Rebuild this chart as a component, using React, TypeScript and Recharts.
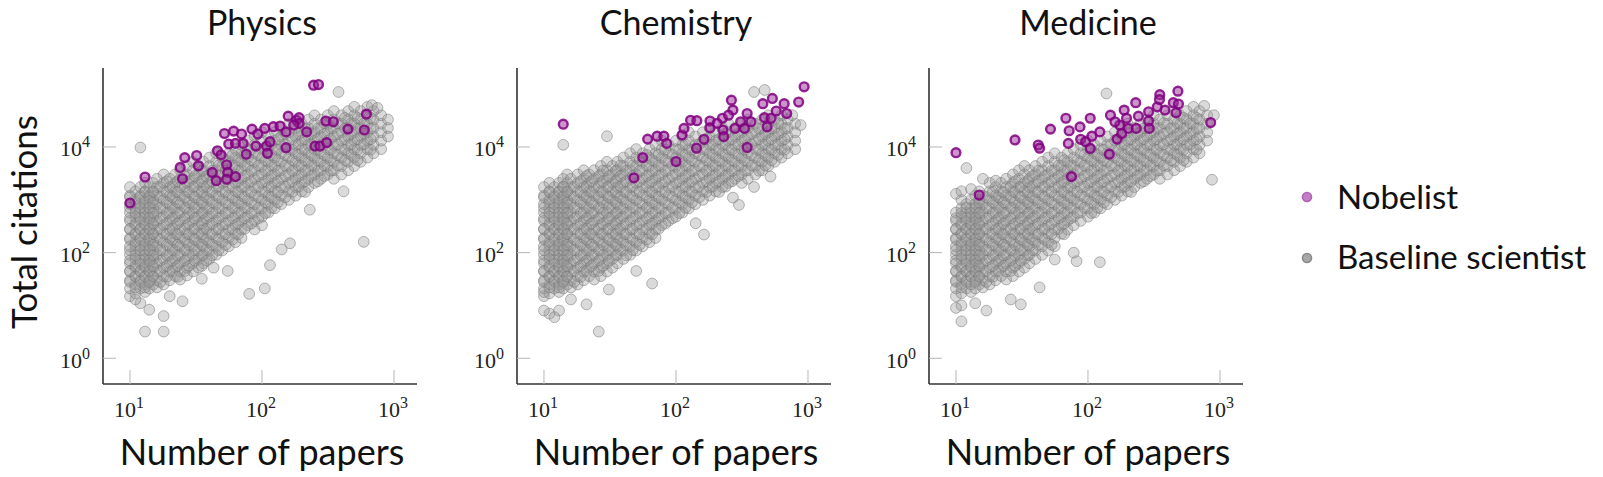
import React from 'react';
import { ScatterChart, Scatter, XAxis, YAxis } from 'recharts';

type Col = [number, number[]];
type Pt = [number, number];

// ---------- Physics ----------
const physicsBaseline: Col[] = [
  [10, [15, 21, 30, 44, 63, 91, 132, 190, 275, 400, 575, 830, 1200, 1740]],
  [11, [17, 25, 36, 52, 76, 110, 158, 229, 331, 479, 692, 1000, 1445]],
  [12, [21, 30, 44, 63, 91, 132, 190, 275, 400, 575, 830, 1200, 1740]],
  [13, [18, 25, 36, 52, 76, 110, 158, 229, 331, 479, 692, 1000, 1445, 2090]],
  [14, [21, 30, 44, 63, 91, 132, 190, 275, 400, 575, 830, 1200, 1740]],
  [15, [25, 36, 52, 76, 110, 158, 229, 331, 479, 692, 1000, 1445, 2090]],
  [16, [22, 30, 44, 63, 91, 132, 190, 275, 400, 575, 830, 1200, 1740, 2500]],
  [18, [25, 36, 52, 76, 110, 158, 229, 331, 479, 692, 1000, 1445, 2090, 3020]],
  [20, [30, 44, 63, 91, 132, 190, 275, 400, 575, 830, 1200, 1740, 2500]],
  [22, [36, 52, 76, 110, 158, 229, 331, 479, 692, 1000, 1445, 2090, 3020]],
  [24, [31, 44, 63, 91, 132, 190, 275, 400, 575, 830, 1200, 1740, 2500, 3630]],
  [27, [37, 52, 76, 110, 158, 229, 331, 479, 692, 1000, 1445, 2090, 3020, 4365]],
  [30, [44, 63, 91, 132, 190, 275, 400, 575, 830, 1200, 1740, 2500, 3630, 5250]],
  [33, [52, 76, 110, 158, 229, 331, 479, 692, 1000, 1445, 2090, 3020, 4365]],
  [36, [63, 91, 132, 190, 275, 400, 575, 830, 1200, 1740, 2500, 3630, 5250]],
  [40, [76, 110, 158, 229, 331, 479, 692, 1000, 1445, 2090, 3020, 4365, 6310]],
  [45, [91, 132, 190, 275, 400, 575, 830, 1200, 1740, 2500, 3630, 5250, 7600]],
  [50, [110, 158, 229, 331, 479, 692, 1000, 1445, 2090, 3020, 4365, 6310]],
  [56, [132, 190, 275, 400, 575, 830, 1200, 1740, 2500, 3630, 5250, 7600]],
  [63, [158, 229, 331, 479, 692, 1000, 1445, 2090, 3020, 4365, 6310, 9120]],
  [70, [190, 275, 400, 575, 830, 1200, 1740, 2500, 3630, 5250, 7600, 11000]],
  [78, [331, 479, 692, 1000, 1445, 2090, 3020, 4365, 6310, 9120, 13200]],
  [88, [275, 400, 575, 830, 1200, 1740, 2500, 3630, 5250, 7600, 11000, 15850]],
  [100, [331, 479, 692, 1000, 1445, 2090, 3020, 4365, 6310, 9120, 13200, 19050]],
  [112, [575, 830, 1200, 1740, 2500, 3630, 5250, 7600, 11000, 15850]],
  [125, [692, 1000, 1445, 2090, 3020, 4365, 6310, 9120, 13200, 19050]],
  [140, [830, 1200, 1740, 2500, 3630, 5250, 7600, 11000, 15850, 22900]],
  [160, [1000, 1445, 2090, 3020, 4365, 6310, 9120, 13200, 19050, 27540]],
  [180, [1200, 1740, 2500, 3630, 5250, 7600, 11000, 15850, 22900]],
  [200, [1445, 2090, 3020, 4365, 6310, 9120, 13200, 19050, 27540]],
  [225, [1740, 2500, 3630, 5250, 7600, 11000, 15850, 22900, 33100]],
  [250, [2090, 3020, 4365, 6310, 9120, 13200, 19050, 27540, 39800]],
  [280, [2500, 3630, 5250, 7600, 11000, 15850, 22900, 33100]],
  [315, [3020, 4365, 6310, 9120, 13200, 19050, 27540, 39800]],
  [350, [2500, 3630, 5250, 7600, 11000, 15850, 22900, 33100, 47900]],
  [400, [3020, 4365, 6310, 9120, 13200, 19050, 27540, 39800]],
  [450, [3630, 5250, 7600, 11000, 15850, 22900, 33100, 47900]],
  [500, [4365, 6310, 9120, 13200, 19050, 27540, 39800, 57500]],
  [560, [5250, 7600, 11000, 15850, 22900, 33100, 47900]],
  [630, [6310, 9120, 13200, 19050, 27540, 39800, 57500]],
  [700, [7600, 11000, 15850, 22900, 33100, 47900]],
  [800, [9120, 13200, 19050, 27540, 39800]],
  [900, [15850, 22900, 33100]],
];
const physicsCore: Col[] = [
  [10, [28, 45, 71, 112, 178, 282, 447, 708, 1120]],
  [11, [22, 35, 56, 89, 141, 224, 355, 562, 891]],
  [12, [28, 45, 71, 112, 178, 282, 447, 708, 1120]],
  [13, [22, 35, 56, 89, 141, 224, 355, 562, 891, 1410]],
  [14, [28, 45, 71, 112, 178, 282, 447, 708, 1120]],
  [15, [35, 56, 89, 141, 224, 355, 562, 891, 1410]],
  [17, [28, 45, 71, 112, 178, 282, 447, 708, 1120, 1780]],
  [19, [35, 56, 89, 141, 224, 355, 562, 891, 1410, 2240]],
  [21, [45, 71, 112, 178, 282, 447, 708, 1120, 1780]],
  [23, [35, 56, 89, 141, 224, 355, 562, 891, 1410, 2240]],
  [26, [45, 71, 112, 178, 282, 447, 708, 1120, 1780, 2820]],
  [28, [56, 89, 141, 224, 355, 562, 891, 1410, 2240]],
  [31, [71, 112, 178, 282, 447, 708, 1120, 1780, 2820]],
  [35, [56, 89, 141, 224, 355, 562, 891, 1410, 2240, 3550]],
  [38, [71, 112, 178, 282, 447, 708, 1120, 1780, 2820]],
  [42, [89, 141, 224, 355, 562, 891, 1410, 2240, 3550]],
  [47, [112, 178, 282, 447, 708, 1120, 1780, 2820, 4470]],
  [53, [141, 224, 355, 562, 891, 1410, 2240, 3550, 5620]],
  [60, [178, 282, 447, 708, 1120, 1780, 2820, 4470, 7080]],
  [66, [224, 355, 562, 891, 1410, 2240, 3550, 5620]],
  [74, [282, 447, 708, 1120, 1780, 2820, 4470, 7080]],
  [83, [355, 562, 891, 1410, 2240, 3550, 5620, 8910]],
  [94, [447, 708, 1120, 1780, 2820, 4470, 7080]],
  [106, [562, 891, 1410, 2240, 3550, 5620, 8910]],
  [118, [708, 1120, 1780, 2820, 4470, 7080, 11200]],
  [132, [891, 1410, 2240, 3550, 5620, 8910, 14100]],
  [150, [1120, 1780, 2820, 4470, 7080, 11200, 17800]],
  [170, [1410, 2240, 3550, 5620, 8910, 14100]],
  [190, [1780, 2820, 4470, 7080, 11200, 17800]],
  [212, [1410, 2240, 3550, 5620, 8910, 14100, 22400]],
  [237, [2820, 4470, 7080, 11200, 17800]],
  [265, [2240, 3550, 5620, 8910, 14100, 22400]],
  [297, [2820, 4470, 7080, 11200, 17800, 28200]],
  [332, [3550, 5620, 8910, 14100, 22400]],
  [375, [4470, 7080, 11200, 17800, 28200]],
  [425, [5620, 8910, 14100, 22400, 35500]],
  [475, [7080, 11200, 17800, 28200]],
  [530, [5620, 8910, 14100, 22400, 35500]],
  [595, [11200, 17800, 28200]],
  [665, [8910, 14100, 22400, 35500]],
];
const physicsOutliers: Pt[] = [
  [12, 9800], [380, 110000], [590, 160], [163, 150], [141, 115], [115, 58], [105, 21],
  [80, 16.6], [35, 32], [55, 45], [43, 52], [13, 3.2], [18, 3.2], [18, 6.3], [14, 8.3],
  [230, 650], [415, 1450], [12, 11], [11, 13], [25, 12], [20, 15], [680, 62000], [750, 55000],
];
const physicsNobel: Pt[] = [
  [10, 870], [13, 2700], [25, 2500], [24, 4100], [26, 6300], [32, 6900], [33, 4400], [42, 3300],
  [45, 2300], [46, 8500], [49, 7100], [54, 4600], [55, 3300], [54, 2450], [63, 2750], [52, 18000],
  [61, 20000], [56, 11400], [63, 11700], [70, 17600], [72, 11700], [76, 7300], [84, 21800],
  [90, 10400], [93, 17600], [105, 22500], [108, 10400], [110, 7600], [115, 12600], [122, 24200],
  [137, 25000], [152, 19300], [152, 9700], [158, 38400], [183, 32000], [191, 36000], [191, 28000],
  [174, 26000], [218, 19300], [252, 10400], [275, 10400], [309, 12100], [246, 148000],
  [268, 152000], [305, 31000], [347, 30000], [448, 21800], [596, 21000], [618, 42000],
];

// ---------- Chemistry ----------
const chemistryBaseline: Col[] = [
  [10, [15, 21, 30, 44, 63, 91, 132, 190, 275, 400, 575, 830, 1200, 1740]],
  [11, [17, 25, 36, 52, 76, 110, 158, 229, 331, 479, 692, 1000, 1445, 2090]],
  [12, [21, 30, 44, 63, 91, 132, 190, 275, 400, 575, 830, 1200, 1740]],
  [13, [18, 25, 36, 52, 76, 110, 158, 229, 331, 479, 692, 1000, 1445, 2090]],
  [14, [21, 30, 44, 63, 91, 132, 190, 275, 400, 575, 830, 1200, 1740, 2500]],
  [15, [25, 36, 52, 76, 110, 158, 229, 331, 479, 692, 1000, 1445, 2090, 3020]],
  [16, [22, 30, 44, 63, 91, 132, 190, 275, 400, 575, 830, 1200, 1740, 2500]],
  [18, [25, 36, 52, 76, 110, 158, 229, 331, 479, 692, 1000, 1445, 2090, 3020]],
  [20, [30, 44, 63, 91, 132, 190, 275, 400, 575, 830, 1200, 1740, 2500, 3630]],
  [22, [36, 52, 76, 110, 158, 229, 331, 479, 692, 1000, 1445, 2090, 3020]],
  [24, [31, 44, 63, 91, 132, 190, 275, 400, 575, 830, 1200, 1740, 2500, 3630]],
  [27, [36, 52, 76, 110, 158, 229, 331, 479, 692, 1000, 1445, 2090, 3020, 4365]],
  [30, [44, 63, 91, 132, 190, 275, 400, 575, 830, 1200, 1740, 2500, 3630, 5250]],
  [33, [52, 76, 110, 158, 229, 331, 479, 692, 1000, 1445, 2090, 3020, 4365]],
  [36, [63, 91, 132, 190, 275, 400, 575, 830, 1200, 1740, 2500, 3630, 5250]],
  [40, [76, 110, 158, 229, 331, 479, 692, 1000, 1445, 2090, 3020, 4365, 6310]],
  [45, [91, 132, 190, 275, 400, 575, 830, 1200, 1740, 2500, 3630, 5250, 7600]],
  [50, [110, 158, 229, 331, 479, 692, 1000, 1445, 2090, 3020, 4365, 6310, 9120]],
  [56, [132, 190, 275, 400, 575, 830, 1200, 1740, 2500, 3630, 5250, 7600]],
  [63, [158, 229, 331, 479, 692, 1000, 1445, 2090, 3020, 4365, 6310, 9120]],
  [70, [190, 275, 400, 575, 830, 1200, 1740, 2500, 3630, 5250, 7600, 11000]],
  [78, [331, 479, 692, 1000, 1445, 2090, 3020, 4365, 6310, 9120, 13200]],
  [88, [400, 575, 830, 1200, 1740, 2500, 3630, 5250, 7600, 11000]],
  [100, [479, 692, 1000, 1445, 2090, 3020, 4365, 6310, 9120, 13200]],
  [112, [575, 830, 1200, 1740, 2500, 3630, 5250, 7600, 11000, 15850]],
  [125, [692, 1000, 1445, 2090, 3020, 4365, 6310, 9120, 13200, 19050]],
  [140, [830, 1200, 1740, 2500, 3630, 5250, 7600, 11000, 15850]],
  [160, [1000, 1445, 2090, 3020, 4365, 6310, 9120, 13200, 19050]],
  [180, [1200, 1740, 2500, 3630, 5250, 7600, 11000, 15850, 22900]],
  [200, [1445, 2090, 3020, 4365, 6310, 9120, 13200, 19050]],
  [225, [1740, 2500, 3630, 5250, 7600, 11000, 15850, 22900]],
  [250, [2090, 3020, 4365, 6310, 9120, 13200, 19050, 27540]],
  [280, [2500, 3630, 5250, 7600, 11000, 15850, 22900]],
  [315, [2090, 3020, 4365, 6310, 9120, 13200, 19050, 27540]],
  [350, [2500, 3630, 5250, 7600, 11000, 15850, 22900, 33100]],
  [400, [3020, 4365, 6310, 9120, 13200, 19050, 27540]],
  [450, [3630, 5250, 7600, 11000, 15850, 22900, 33100]],
  [500, [4365, 6310, 9120, 13200, 19050, 27540, 39800]],
  [560, [5250, 7600, 11000, 15850, 22900, 33100]],
  [630, [6310, 9120, 13200, 19050, 27540, 39800]],
  [700, [7600, 11000, 15850, 22900, 33100]],
  [800, [9120, 13200, 19050, 27540]],
];
const chemistryCore: Col[] = [
  [10, [18, 28, 45, 71, 112, 178, 282, 447, 708, 1120]],
  [11, [22, 35, 56, 89, 141, 224, 355, 562, 891, 1410]],
  [12, [28, 45, 71, 112, 178, 282, 447, 708, 1120]],
  [13, [22, 35, 56, 89, 141, 224, 355, 562, 891, 1410]],
  [14, [28, 45, 71, 112, 178, 282, 447, 708, 1120, 1780]],
  [15, [35, 56, 89, 141, 224, 355, 562, 891, 1410]],
  [17, [28, 45, 71, 112, 178, 282, 447, 708, 1120, 1780]],
  [19, [35, 56, 89, 141, 224, 355, 562, 891, 1410, 2240]],
  [21, [45, 71, 112, 178, 282, 447, 708, 1120, 1780, 2820]],
  [23, [56, 89, 141, 224, 355, 562, 891, 1410, 2240]],
  [26, [45, 71, 112, 178, 282, 447, 708, 1120, 1780, 2820]],
  [28, [56, 89, 141, 224, 355, 562, 891, 1410, 2240, 3550]],
  [31, [71, 112, 178, 282, 447, 708, 1120, 1780, 2820]],
  [35, [89, 141, 224, 355, 562, 891, 1410, 2240, 3550]],
  [38, [112, 178, 282, 447, 708, 1120, 1780, 2820, 4470]],
  [42, [89, 141, 224, 355, 562, 891, 1410, 2240, 3550]],
  [47, [112, 178, 282, 447, 708, 1120, 1780, 2820, 4470]],
  [53, [141, 224, 355, 562, 891, 1410, 2240, 3550, 5620]],
  [60, [178, 282, 447, 708, 1120, 1780, 2820, 4470, 7080]],
  [66, [224, 355, 562, 891, 1410, 2240, 3550, 5620]],
  [74, [282, 447, 708, 1120, 1780, 2820, 4470, 7080]],
  [83, [355, 562, 891, 1410, 2240, 3550, 5620, 8910]],
  [94, [447, 708, 1120, 1780, 2820, 4470, 7080]],
  [106, [562, 891, 1410, 2240, 3550, 5620, 8910]],
  [118, [708, 1120, 1780, 2820, 4470, 7080, 11200]],
  [132, [891, 1410, 2240, 3550, 5620, 8910]],
  [150, [1120, 1780, 2820, 4470, 7080, 11200]],
  [170, [1410, 2240, 3550, 5620, 8910, 14100]],
  [190, [1780, 2820, 4470, 7080, 11200]],
  [212, [1410, 2240, 3550, 5620, 8910, 14100]],
  [237, [1780, 2820, 4470, 7080, 11200, 17800]],
  [265, [2240, 3550, 5620, 8910, 14100]],
  [297, [2820, 4470, 7080, 11200, 17800]],
  [332, [3550, 5620, 8910, 14100, 22400]],
  [375, [4470, 7080, 11200, 17800]],
  [425, [3550, 5620, 8910, 14100, 22400]],
  [475, [4470, 7080, 11200, 17800]],
  [530, [5620, 8910, 14100, 22400]],
  [595, [7080, 11200, 17800, 28200]],
  [665, [8910, 14100, 22400]],
];
const chemistryOutliers: Pt[] = [
  [11, 7], [13, 8], [21, 10.5], [26, 3.2], [31, 20], [66, 26], [50, 45], [163, 220], [141, 360],
  [300, 800], [270, 1100], [520, 2750], [390, 1750], [14, 11000], [30, 16000], [390, 110000],
  [470, 120000], [12, 6], [10, 8], [16, 13], [880, 26000], [760, 40000],
];
const chemistryNobel: Pt[] = [
  [14, 27000], [48, 2600], [56, 6300], [61, 14100], [72, 16000], [81, 16000], [85, 11700],
  [100, 5300], [111, 16800], [115, 22500], [129, 32000], [144, 31500], [143, 9500], [163, 14000],
  [181, 31000], [181, 23000], [225, 35000], [227, 21000], [230, 15700], [263, 77000], [270, 50000],
  [280, 22500], [309, 30000], [330, 22500], [346, 43000], [370, 30000], [346, 9800], [455, 66000],
  [468, 36000], [490, 24000], [525, 35000], [537, 83000], [575, 48000], [660, 66000], [690, 43000],
  [850, 71000], [935, 138000], [250, 40000], [205, 28000],
];

// ---------- Medicine ----------
const medicineBaseline: Col[] = [
  [10, [15, 21, 30, 44, 63, 91, 132, 190, 275, 400, 575]],
  [11, [17, 25, 36, 52, 76, 110, 158, 229, 331, 479, 692, 1000]],
  [12, [21, 30, 44, 63, 91, 132, 190, 275, 400, 575, 830]],
  [13, [18, 25, 36, 52, 76, 110, 158, 229, 331, 479, 692, 1000]],
  [14, [21, 30, 44, 63, 91, 132, 190, 275, 400, 575, 830, 1200]],
  [15, [25, 36, 52, 76, 110, 158, 229, 331, 479, 692, 1000, 1445]],
  [16, [22, 30, 44, 63, 91, 132, 190, 275, 400, 575, 830, 1200]],
  [18, [25, 36, 52, 76, 110, 158, 229, 331, 479, 692, 1000, 1445, 2090]],
  [20, [30, 44, 63, 91, 132, 190, 275, 400, 575, 830, 1200, 1740]],
  [22, [36, 52, 76, 110, 158, 229, 331, 479, 692, 1000, 1445, 2090]],
  [24, [31, 44, 63, 91, 132, 190, 275, 400, 575, 830, 1200, 1740, 2500]],
  [27, [36, 52, 76, 110, 158, 229, 331, 479, 692, 1000, 1445, 2090, 3020]],
  [30, [44, 63, 91, 132, 190, 275, 400, 575, 830, 1200, 1740, 2500, 3630]],
  [33, [52, 76, 110, 158, 229, 331, 479, 692, 1000, 1445, 2090, 3020, 4365]],
  [36, [63, 91, 132, 190, 275, 400, 575, 830, 1200, 1740, 2500, 3630]],
  [40, [76, 110, 158, 229, 331, 479, 692, 1000, 1445, 2090, 3020, 4365]],
  [45, [91, 132, 190, 275, 400, 575, 830, 1200, 1740, 2500, 3630, 5250]],
  [50, [110, 158, 229, 331, 479, 692, 1000, 1445, 2090, 3020, 4365, 6310]],
  [56, [132, 190, 275, 400, 575, 830, 1200, 1740, 2500, 3630, 5250, 7600]],
  [63, [229, 331, 479, 692, 1000, 1445, 2090, 3020, 4365, 6310]],
  [70, [275, 400, 575, 830, 1200, 1740, 2500, 3630, 5250, 7600]],
  [78, [331, 479, 692, 1000, 1445, 2090, 3020, 4365, 6310, 9120]],
  [88, [400, 575, 830, 1200, 1740, 2500, 3630, 5250, 7600, 11000]],
  [100, [479, 692, 1000, 1445, 2090, 3020, 4365, 6310, 9120, 13200]],
  [112, [575, 830, 1200, 1740, 2500, 3630, 5250, 7600, 11000]],
  [125, [692, 1000, 1445, 2090, 3020, 4365, 6310, 9120, 13200]],
  [140, [830, 1200, 1740, 2500, 3630, 5250, 7600, 11000, 15850]],
  [160, [1000, 1445, 2090, 3020, 4365, 6310, 9120, 13200, 19050]],
  [180, [1200, 1740, 2500, 3630, 5250, 7600, 11000, 15850, 22900]],
  [200, [1445, 2090, 3020, 4365, 6310, 9120, 13200, 19050, 27540]],
  [225, [1740, 2500, 3630, 5250, 7600, 11000, 15850, 22900]],
  [250, [2090, 3020, 4365, 6310, 9120, 13200, 19050, 27540]],
  [280, [2500, 3630, 5250, 7600, 11000, 15850, 22900, 33100]],
  [315, [3020, 4365, 6310, 9120, 13200, 19050, 27540, 39800]],
  [350, [2500, 3630, 5250, 7600, 11000, 15850, 22900, 33100]],
  [400, [3020, 4365, 6310, 9120, 13200, 19050, 27540, 39800]],
  [450, [3630, 5250, 7600, 11000, 15850, 22900, 33100, 47900]],
  [500, [4365, 6310, 9120, 13200, 19050, 27540, 39800]],
  [560, [5250, 7600, 11000, 15850, 22900, 33100, 47900]],
  [630, [6310, 9120, 13200, 19050, 27540, 39800, 57500]],
  [700, [7600, 11000, 15850, 22900, 33100, 47900]],
  [800, [13200, 19050, 27540, 39800]],
];
const medicineCore: Col[] = [
  [10, [28, 45, 71, 112, 178, 282, 447]],
  [11, [22, 35, 56, 89, 141, 224, 355, 562]],
  [12, [28, 45, 71, 112, 178, 282, 447, 708]],
  [13, [35, 56, 89, 141, 224, 355, 562]],
  [14, [28, 45, 71, 112, 178, 282, 447, 708]],
  [15, [35, 56, 89, 141, 224, 355, 562, 891]],
  [17, [28, 45, 71, 112, 178, 282, 447, 708, 1120]],
  [19, [35, 56, 89, 141, 224, 355, 562, 891, 1410]],
  [21, [45, 71, 112, 178, 282, 447, 708, 1120]],
  [23, [56, 89, 141, 224, 355, 562, 891, 1410]],
  [26, [45, 71, 112, 178, 282, 447, 708, 1120, 1780]],
  [28, [56, 89, 141, 224, 355, 562, 891, 1410, 2240]],
  [31, [71, 112, 178, 282, 447, 708, 1120, 1780]],
  [35, [89, 141, 224, 355, 562, 891, 1410, 2240]],
  [38, [112, 178, 282, 447, 708, 1120, 1780, 2820]],
  [42, [141, 224, 355, 562, 891, 1410, 2240, 3550]],
  [47, [178, 282, 447, 708, 1120, 1780, 2820]],
  [53, [141, 224, 355, 562, 891, 1410, 2240, 3550]],
  [60, [282, 447, 708, 1120, 1780, 2820, 4470]],
  [66, [224, 355, 562, 891, 1410, 2240, 3550, 5620]],
  [74, [447, 708, 1120, 1780, 2820, 4470]],
  [83, [562, 891, 1410, 2240, 3550, 5620]],
  [94, [708, 1120, 1780, 2820, 4470, 7080]],
  [106, [562, 891, 1410, 2240, 3550, 5620, 8910]],
  [118, [708, 1120, 1780, 2820, 4470, 7080]],
  [132, [891, 1410, 2240, 3550, 5620, 8910]],
  [150, [1120, 1780, 2820, 4470, 7080, 11200]],
  [170, [1410, 2240, 3550, 5620, 8910, 14100]],
  [190, [1780, 2820, 4470, 7080, 11200]],
  [212, [1410, 2240, 3550, 5620, 8910, 14100]],
  [237, [2820, 4470, 7080, 11200, 17800]],
  [265, [2240, 3550, 5620, 8910, 14100, 22400]],
  [297, [2820, 4470, 7080, 11200, 17800]],
  [332, [3550, 5620, 8910, 14100, 22400]],
  [375, [4470, 7080, 11200, 17800, 28200]],
  [425, [5620, 8910, 14100, 22400]],
  [475, [7080, 11200, 17800, 28200]],
  [530, [5620, 8910, 14100, 22400, 35500]],
  [595, [11200, 17800, 28200]],
  [665, [8910, 14100, 22400, 35500]],
];
const medicineOutliers: Pt[] = [
  [10, 1300], [11, 1450], [12, 4000], [13, 1600], [16, 2500], [20, 2300], [11, 5], [11, 10],
  [17, 8], [26, 13], [31, 10.5], [43, 22], [82, 69], [123, 66], [78, 100], [56, 74],
  [138, 103000], [870, 2400], [10, 9], [14, 11], [900, 40000], [760, 60000],
];
const medicineNobel: Pt[] = [
  [10, 7800], [15, 1230], [28, 13600], [42, 10900], [43, 9500], [52, 21800], [68, 35000],
  [72, 20300], [71, 11700], [75, 2750], [87, 24000], [88, 14000], [96, 12600], [104, 35000],
  [104, 9400], [107, 16000], [123, 19300], [145, 7300], [148, 40000], [166, 14100], [174, 26000],
  [188, 50000], [196, 35000], [202, 22500], [230, 69000], [232, 22500], [241, 38400],
  [288, 46400], [288, 31000], [291, 22500], [335, 57500], [350, 98000], [348, 79000],
  [383, 50000], [443, 69000], [465, 44500], [480, 114000], [485, 65000], [850, 29000],
  [180, 18000], [160, 30000],
];

const panelTitles = ['Physics', 'Chemistry', 'Medicine'];
const xTicks = [10, 100, 1000];
const yTicks = [1, 100, 10000];
const legendLabels = ['Nobelist', 'Baseline scientist'];

const toPoints = (cols: Col[], core: Col[], extra: Pt[]) => [
  ...cols.flatMap(([x, ys]) => ys.map((y) => ({ x, y }))),
  ...core.flatMap(([x, ys]) => ys.map((y) => ({ x, y }))),
  ...extra.map(([x, y]) => ({ x, y })),
];
const toNobel = (pts: Pt[]) => pts.map(([x, y]) => ({ x, y }));

const panels = [
  { title: panelTitles[0], base: toPoints(physicsBaseline, physicsCore, physicsOutliers), nobel: toNobel(physicsNobel) },
  { title: panelTitles[1], base: toPoints(chemistryBaseline, chemistryCore, chemistryOutliers), nobel: toNobel(chemistryNobel) },
  { title: panelTitles[2], base: toPoints(medicineBaseline, medicineCore, medicineOutliers), nobel: toNobel(medicineNobel) },
];

const SANS = "Lato, 'Noto Sans', sans-serif";
const SERIF = "'Liberation Serif', 'DejaVu Serif', serif";

const exp10 = (v: number) => Math.round(Math.log10(v));

const XTick = (props: any) => {
  const { x, y, payload } = props;
  return (
    <g>
      <line x1={x} x2={x} y1={y} y2={y - 14} stroke="#b5b5b5" strokeWidth={1} />
      <text x={x - 1} y={y + 33} textAnchor="middle" fontFamily={SERIF} fontSize={22} fill="#222">
        10<tspan fontSize={16} dy={-9}>{exp10(payload.value)}</tspan>
      </text>
    </g>
  );
};

const YTick = (props: any) => {
  const { x, y, payload } = props;
  return (
    <g>
      <line x1={x} x2={x + 13} y1={y} y2={y} stroke="#b5b5b5" strokeWidth={1} />
      <text x={x - 13} y={y + 9.5} textAnchor="end" fontFamily={SERIF} fontSize={22} fill="#222">
        10<tspan fontSize={16} dy={-9}>{exp10(payload.value)}</tspan>
      </text>
    </g>
  );
};

const GrayDot = (p: any) => (
  <circle cx={p.cx} cy={p.cy} r={5.4} fill="#999" fillOpacity={0.36} stroke="#7a7a7a" strokeOpacity={0.55} strokeWidth={1} />
);
const PurpleDot = (p: any) => (
  <circle cx={p.cx} cy={p.cy} r={4.4} fill="#9b2a9b" fillOpacity={0.5} stroke="#800080" strokeOpacity={0.85} strokeWidth={2.4} />
);

const PANEL_OFFSETS = [0, 414, 826];

const Panel = ({ panel, left }: { panel: any; left: number }) => (
  <div style={{ position: 'absolute', left, top: 0 }}>
    <ScatterChart width={430} height={477} margin={{ top: 68, right: 13, bottom: 0, left: 0 }}>
      <XAxis
        type="number"
        dataKey="x"
        scale="log"
        domain={[6.247, 1494]}
        allowDataOverflow
        ticks={xTicks}
        interval={0}
        height={93}
        tickSize={0}
        tickMargin={0}
        tickLine={false}
        axisLine={{ stroke: '#333', strokeWidth: 1.6 }}
        tick={XTick}
      />
      <YAxis
        type="number"
        dataKey="y"
        scale="log"
        domain={[0.326, 313000]}
        allowDataOverflow
        ticks={yTicks}
        interval={0}
        width={103}
        tickSize={0}
        tickMargin={0}
        tickLine={false}
        axisLine={{ stroke: '#333', strokeWidth: 1.6 }}
        tick={YTick}
      />
      <Scatter data={panel.base} shape={GrayDot} isAnimationActive={false} />
      <Scatter data={panel.nobel} shape={PurpleDot} isAnimationActive={false} />
    </ScatterChart>
  </div>
);

export default function App() {
  return (
    <div style={{ position: 'absolute', left: 0, top: 0, width: 1603, height: 477, background: '#fff', overflow: 'hidden' }}>
      {panels.map((p, i) => (
        <Panel key={p.title} panel={p} left={PANEL_OFFSETS[i]} />
      ))}
      <svg width={1603} height={477} style={{ position: 'absolute', left: 0, top: 0, pointerEvents: 'none' }}>
        {panels.map((p, i) => (
          <g key={p.title}>
            <text x={262 + PANEL_OFFSETS[i]} y={35} textAnchor="middle" fontFamily={SANS} fontSize={34} fill="#111">
              {p.title}
            </text>
            <text x={262 + PANEL_OFFSETS[i]} y={465} textAnchor="middle" fontFamily={SANS} fontSize={36} fill="#111">
              Number of papers
            </text>
          </g>
        ))}
        <text transform="translate(37,222) rotate(-90)" textAnchor="middle" fontFamily={SANS} fontSize={35} fill="#111">
          Total citations
        </text>
        <circle cx={1307} cy={197} r={4.5} fill="#c47ec9" stroke="#b062b8" strokeWidth={1.6} />
        <text x={1337} y={209} fontFamily={SANS} fontSize={33} fill="#111">{legendLabels[0]}</text>
        <circle cx={1307} cy={258} r={4.5} fill="#a8a8a8" stroke="#8a8a8a" strokeWidth={1.6} />
        <text x={1337} y={269} fontFamily={SANS} fontSize={33} fill="#111">{legendLabels[1]}</text>
      </svg>
    </div>
  );
}
